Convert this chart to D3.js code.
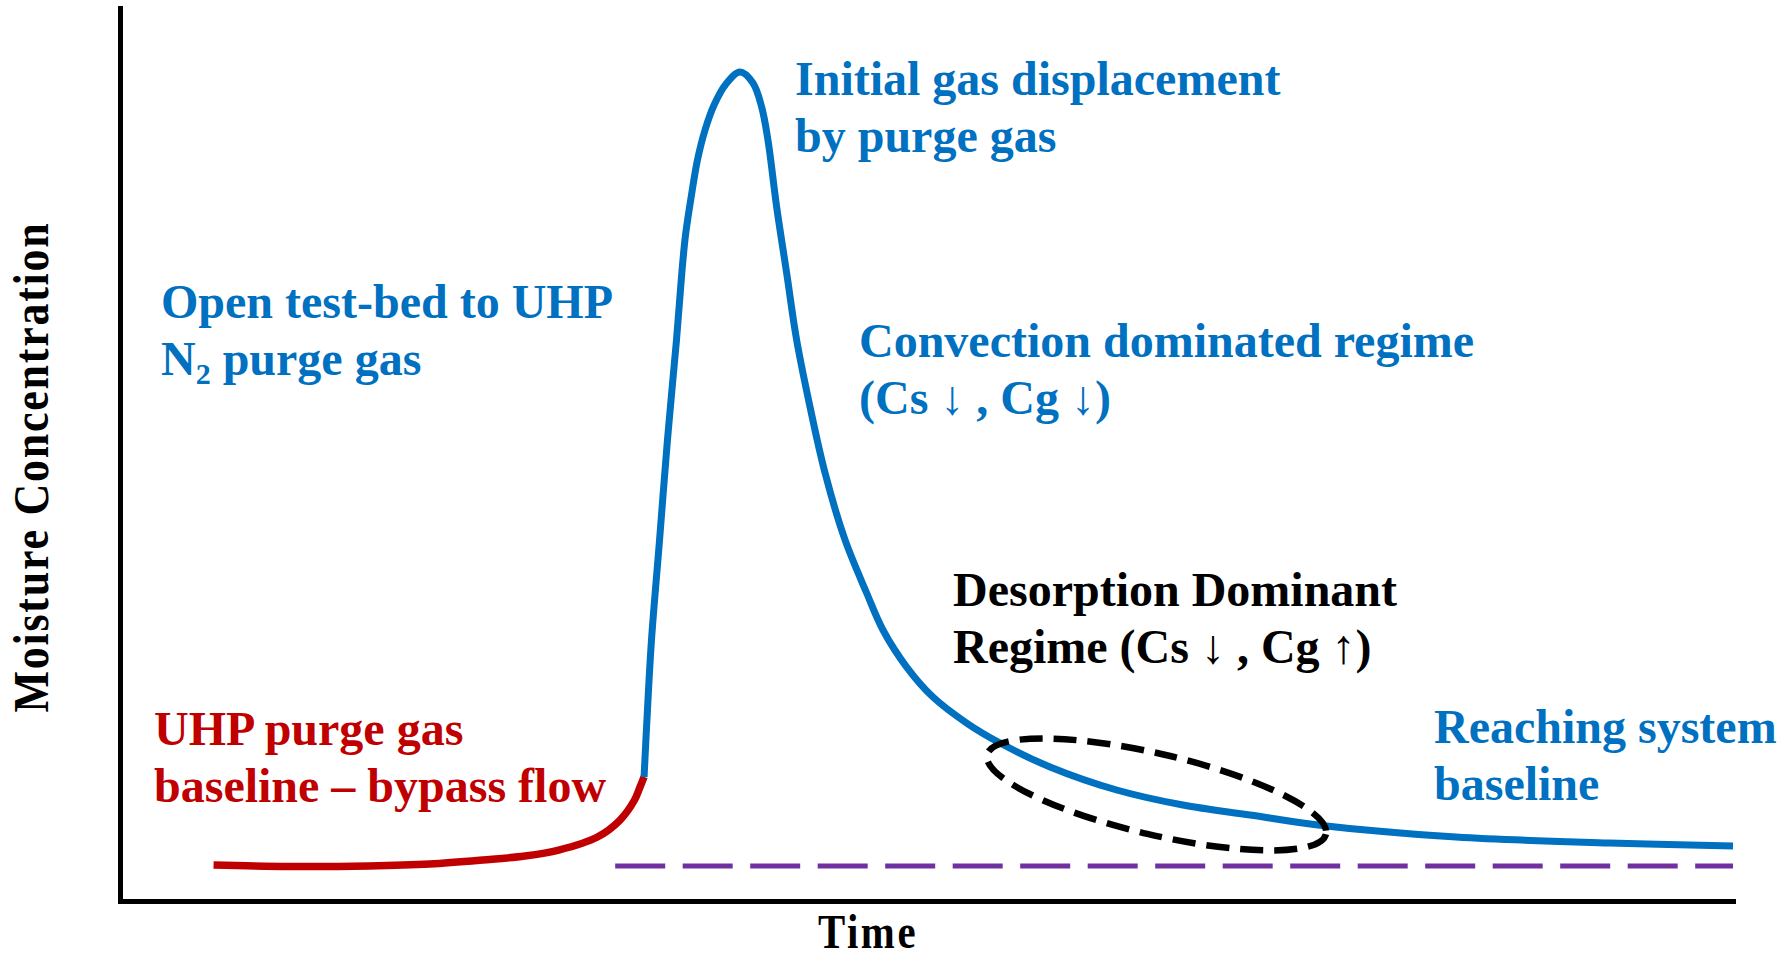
<!DOCTYPE html>
<html>
<head>
<meta charset="utf-8">
<script src="https://cdn.jsdelivr.net/npm/d3@7"></script>
<style>
  html, body { margin: 0; padding: 0; background: #ffffff; }
  svg { display: block; }
  text { font-family: "Liberation Serif", "Times New Roman", Times, serif; font-weight: bold; }
</style>
</head>
<body>
<svg id="chart" width="1791" height="960"></svg>
<script>
// Bypass flow: UHP purge gas baseline before the test-bed is opened (arbitrary units)
const bypassTime = [5.8, 10.5, 15.4, 19.2, 22.5, 25.1, 27.2, 29.6, 31.0, 31.9, 32.24, 32.49];
const bypassConc = [4.03, 3.86, 3.92, 4.14, 4.59, 5.04, 5.71, 7.17, 9.07, 11.31, 12.77, 13.89];

// Test-bed response once purge gas flows through it
const purgeTime = [32.49, 32.70, 32.95, 33.45, 33.94, 34.50, 34.83, 35.06, 35.43, 35.80, 36.27,
                   36.83, 37.57, 38.44, 39.24, 39.78, 40.17, 40.71, 41.33, 41.95, 42.78, 43.71,
                   44.95, 46.29, 47.30, 48.77, 50.40, 52.49, 54.56, 57.66, 61.79, 65.90, 70.06,
                   74.27, 82.83, 92.31, 100];
const purgeConc = [13.89, 21.39, 29.23, 40.43, 51.62, 62.82, 70.32, 74.58, 79.06, 82.98, 86.34,
                   89.14, 91.49, 92.83, 91.60, 88.91, 85.22, 77.72, 70.32, 62.82, 55.32, 47.93,
                   40.43, 34.49, 30.35, 26.20, 22.84, 19.93, 17.69, 15.01, 12.43, 10.75, 9.63,
                   8.51, 7.17, 6.50, 6.16];

// System baseline level and the time span it is drawn over
const systemBaseline = 3.92;
const baselineSpan = [30.7, 100];

// Desorption-dominant window highlighted on the decay
const desorptionCenter = [64.26, 11.93];

// Axis extents
const timeDomain = [0, 100];
const concDomain = [0, 100];

const BLUE = "#0070C0", RED = "#C00000", PURPLE = "#7030A0";

const svg = d3.select("#chart");

const x = d3.scaleLinear().domain(timeDomain).range([120, 1733]);
const y = d3.scaleLinear().domain(concDomain).range([901, 8]);

const line = d3.line()
  .x(d => x(d[0]))
  .y(d => y(d[1]))
  .curve(d3.curveCatmullRom.alpha(0.5));

const bypass = bypassTime.map((t, i) => [t, bypassConc[i]]);
const purge = purgeTime.map((t, i) => [t, purgeConc[i]]);

// System baseline (dashed)
svg.append("line")
  .attr("x1", x(baselineSpan[0])).attr("x2", x(baselineSpan[1]))
  .attr("y1", y(systemBaseline)).attr("y2", y(systemBaseline))
  .attr("stroke", PURPLE).attr("stroke-width", 5)
  .attr("stroke-dasharray", "50 17.5");

// Bypass baseline
svg.append("path")
  .attr("d", line(bypass))
  .attr("fill", "none").attr("stroke", RED).attr("stroke-width", 7.5);

// Purge response
svg.append("path")
  .attr("d", line(purge))
  .attr("fill", "none").attr("stroke", BLUE).attr("stroke-width", 7);

// Highlight ellipse around the desorption regime
svg.append("ellipse")
  .attr("transform", `translate(${x(desorptionCenter[0])},${y(desorptionCenter[1])}) rotate(13.2)`)
  .attr("rx", 174).attr("ry", 40.5)
  .attr("fill", "none").attr("stroke", "#000").attr("stroke-width", 6.5)
  .attr("stroke-dasharray", "23 11");

// Axes without ticks
const xAxis = d3.axisBottom(x).tickValues([]).tickSizeOuter(0);
const yAxis = d3.axisLeft(y).tickValues([]).tickSizeOuter(0);
const gx = svg.append("g").attr("transform", `translate(0,${y(0)})`).call(xAxis);
const gy = svg.append("g").attr("transform", `translate(${x(0)},0)`).call(yAxis);
[gx, gy].forEach(g => g.select(".domain")
  .attr("stroke", "#000").attr("stroke-width", 5).attr("stroke-linecap", "square"));

// Axis titles
svg.append("text")
  .attr("transform", "translate(48,467) rotate(-90) scale(0.88,1)")
  .attr("text-anchor", "middle")
  .style("font-size", "50px").style("letter-spacing", "2px")
  .attr("fill", "#000")
  .text("Moisture Concentration");

svg.append("text")
  .attr("transform", "translate(868,948) scale(0.85,1)")
  .attr("text-anchor", "middle")
  .style("font-size", "48px").style("letter-spacing", "3px")
  .attr("fill", "#000")
  .text("Time");

// Annotations
function label(xPos, yPos, color, lines) {
  const t = svg.append("text")
    .attr("x", xPos).attr("y", yPos)
    .attr("fill", color)
    .style("font-size", "48px");
  lines.forEach((ln, i) => {
    const row = t.append("tspan").attr("x", xPos).attr("y", yPos + i * 57);
    ln.forEach(part => {
      const s = row.append("tspan").text(part.text);
      if (part.arrow) s.style("font-weight", "normal");
      if (part.sub) s.style("font-size", "30px").attr("dy", 9);
      if (part.after) s.attr("dy", -9);
    });
  });
}

label(795, 95, BLUE, [
  [{ text: "Initial gas displacement" }],
  [{ text: "by purge gas" }]
]);

label(161, 318, BLUE, [
  [{ text: "Open test-bed to UHP" }],
  [{ text: "N" }, { text: "2", sub: true }, { text: " purge gas", after: true }]
]);

label(859, 357, BLUE, [
  [{ text: "Convection dominated regime" }],
  [{ text: "(Cs " }, { text: "↓", arrow: true }, { text: " , Cg " }, { text: "↓", arrow: true }, { text: ")" }]
]);

label(953, 606, "#000", [
  [{ text: "Desorption Dominant" }],
  [{ text: "Regime (Cs " }, { text: "↓", arrow: true }, { text: " , Cg " }, { text: "↑", arrow: true }, { text: ")" }]
]);

label(1434, 743, BLUE, [
  [{ text: "Reaching system" }],
  [{ text: "baseline" }]
]);

label(154, 745, RED, [
  [{ text: "UHP purge gas" }],
  [{ text: "baseline – bypass flow" }]
]);
</script>
</body>
</html>
